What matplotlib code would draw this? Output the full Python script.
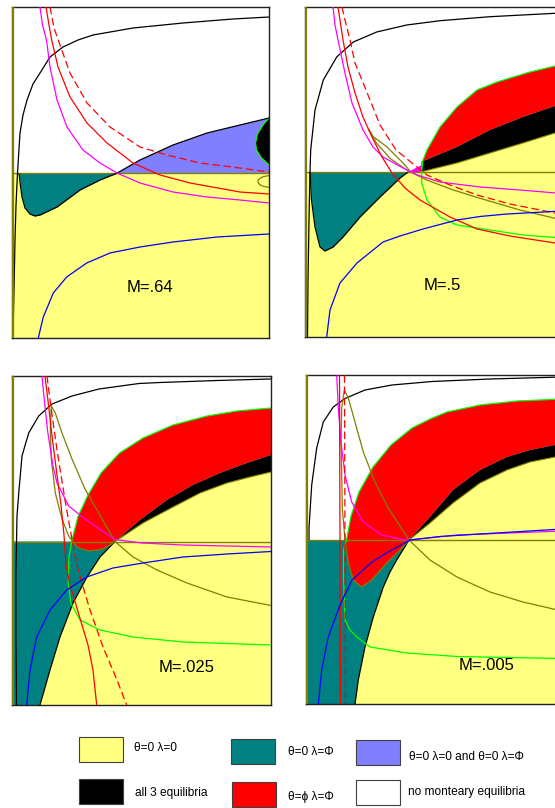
import numpy as np
import matplotlib
matplotlib.use("Agg")
import matplotlib.pyplot as plt
from matplotlib.patches import Rectangle, Ellipse

plt.rcParams["font.family"] = ["Liberation Sans", "DejaVu Sans"]

YELLOW = "#FFFF80"
TEAL = "#008080"
LILAC = "#8080FF"
RED = "#FF0000"
OLIVE = "#808000"
GREEN = "#00FF00"
MAGENTA = "#FF00FF"
BLUE = "#0000FF"

# ---- M=.64 -------------------------------------------------------------
m64_hline = 173.3
m64_upper = [(13, 335), (14, 290), (15, 240), (16, 205), (17.5, 173), (20, 133), (23, 115), (27, 100),
             (33, 84), (40, 73), (50, 57), (63, 47), (78, 40), (93, 35), (133, 28), (183, 23), (233, 19), (269, 17)]
m64_lower = [(19, 173.3), (20.5, 186), (22, 197), (25, 208), (30, 214), (35, 216), (40, 215), (57, 207),
             (80, 190), (100, 180), (116.7, 173.3), (140, 160), (173, 145), (207, 133), (240, 125), (269, 118)]
m64_blob = [(269, 118), (263, 125), (257.5, 134), (255.5, 143), (256.5, 150), (261.5, 158), (269, 165)]
m64_magenta = [(40, 7), (42.5, 25), (46.5, 40), (50, 67), (57, 100), (67, 127), (83, 150), (100, 163),
               (117, 173), (140, 183), (173, 192), (207, 197), (240, 200), (269, 203)]
m64_red = [(46, 7), (49, 25), (51.7, 40), (58, 67), (70, 97), (87, 123), (107, 143), (133, 163),
           (160, 175), (190, 183), (240, 192), (269, 194)]
m64_red_dash = [(50, 7), (54, 28), (60, 45), (70, 73), (87, 103), (110, 127), (140, 147), (167, 155),
                (200, 163), (240, 168), (269, 172)]
m64_blue = [(38.3, 338), (43.3, 317), (53.3, 293), (66.7, 277), (86.7, 263), (110, 253), (140, 247),
            (173, 242), (217, 237), (269, 234)]
m64_loop = (272, 181.5, 28, 12)  # centre x, centre y, width, height

# ---- M=.5 --------------------------------------------------------------
m5_hline = 172
m5_upper = [(307.5, 337), (308, 280), (309, 220), (310, 172), (310.7, 150), (315, 110), (323.3, 80),
            (336.7, 57), (353.3, 42), (376.7, 32), (406.7, 25), (440, 20.7), (490, 16.7), (555, 13.3), (562, 13)]
m5_lower = [(310, 172), (311.5, 200), (315, 227), (320, 247), (325, 251), (333, 247), (343, 237),
            (360, 217), (380, 197), (400, 178), (408, 172)]
m5_green_top = [(421.7, 172), (423, 160), (427, 150), (440, 127), (457, 107), (477, 90), (497, 82),
                (510, 78), (530, 72), (555, 66), (562, 65)]
m5_green_low = [(421.7, 172), (421.7, 183), (427, 200), (440, 217), (457, 225), (480, 228.5), (490, 230),
                (523, 235), (562, 238)]
m5_red_black = [(421.7, 161.7), (457, 147), (490, 130), (523, 117), (555, 106), (562, 104)]
m5_black_yellow = [(421.7, 171.7), (457, 163), (490, 153), (523, 143), (555, 133), (562, 131.5)]
m5_pink = [(408, 172), (421.7, 165), (421.7, 172)]
m5_magenta = [(333, 7), (335, 25), (338, 40), (345, 73), (352, 103), (363, 130), (373, 147), (383, 157),
              (403, 168), (417, 175), (440, 182), (480, 187), (520, 190), (562, 193.5)]
m5_red = [(338, 7), (340, 20), (343, 40), (348, 67), (355, 93), (363, 117), (372, 137), (382, 157),
          (392, 173), (405, 188), (420, 200), (450, 217), (477, 229), (510, 236), (555, 243), (562, 244)]
m5_red_dash = [(342, 7), (345, 20), (350, 40), (355, 63), (362, 80), (370, 100), (380, 125), (396, 150),
               (412, 163), (427, 175), (450, 185), (477, 195), (510, 204), (555, 213), (562, 214)]
m5_olive_a = [(368.3, 129), (376.7, 143.3), (390, 158.3), (406.7, 170), (426.7, 180), (453.3, 190),
              (480, 198.3), (520, 210), (555, 218.3), (562, 219.5)]
m5_olive_b = [(368.3, 129), (373.3, 136.7), (386.7, 146.7), (403.3, 163.3), (410, 171)]
m5_blue = [(326.7, 337), (330, 310), (340, 283), (357, 263), (383, 242), (400, 236), (423, 229),
           (457, 220), (480, 216.5), (507, 214), (562, 211)]

# ---- M=.025 ------------------------------------------------------------
m025_hline = 541.5
m025_upper = [(16.5, 705), (16, 640), (16, 570), (17, 516), (19, 490), (22, 456), (28.7, 433), (38.7, 416),
              (52, 404), (72, 396), (99, 389), (139, 383.5), (160, 382.5), (217, 380.5), (271, 379)]
m025_lower = [(40, 705), (50, 670), (60, 637), (73, 603), (87, 577), (100, 557), (115, 541.5), (143, 523),
              (173, 507), (200, 493), (227, 483), (250, 477), (271, 472)]
m025_red_black = [(115, 541.5), (140, 520), (167, 500), (193, 485), (220, 473), (247, 463), (271, 455)]
m025_green_top = [(72, 540), (78, 516.5), (87.5, 496), (101, 473), (119.5, 453), (143, 438), (173, 425),
                  (207, 416), (237, 411), (271, 408)]
m025_green_low = [(72, 540), (69, 557), (68.3, 583), (70.7, 603), (80, 620), (100, 630), (133, 637),
                  (183, 642), (271, 645)]
m025_dip = [(72, 541.5), (78, 547.5), (88.7, 551), (102, 549.3), (110, 545), (115, 541.5)]
m025_olive = [(72, 541), (68.7, 536), (62, 519), (55.3, 493), (51.3, 459), (50.3, 426), (51.3, 406),
              (55.3, 413), (62, 433), (72, 459), (85, 489), (98.7, 513), (115, 541.5), (133, 557),
              (157, 570), (187, 583), (227, 597), (271, 605.5)]
m025_magenta = [(42, 376), (43.5, 392), (45.3, 409), (47.5, 430), (50.3, 449), (53, 466), (57, 483),
                (68.7, 506), (85, 519), (102, 531), (115, 539.5), (142, 543), (183, 545), (271, 547)]
m025_red = [(45, 376), (48.5, 405), (52.5, 440), (57, 475), (61, 505), (64, 535), (66, 565), (70, 585),
            (76, 605), (82, 625), (88, 645), (93, 670), (96.7, 705)]
m025_red_dash = [(47, 376), (50, 400), (53.5, 425), (57, 450), (61, 475), (65, 500), (68.5, 520), (73, 545),
                 (78, 570), (84, 590), (90, 610), (103, 647), (117, 680), (126.7, 705)]
m025_blue = [(26.7, 705), (30, 670), (36.7, 637), (50, 610), (66.7, 590), (86.7, 577), (113, 568),
             (143, 563), (183, 557), (227, 554), (271, 551.5)]

# ---- M=.005 ------------------------------------------------------------
m005_hline = 540
m005_upper = [(309, 540), (309, 528), (311.7, 485), (316.7, 448), (323.3, 422), (333.3, 407), (345, 398.5),
              (365, 390), (392, 385), (432, 381.5), (490, 379), (562, 377)]
m005_lower = [(355, 704.3), (358.3, 680), (365, 647), (373.3, 617), (383.3, 587), (390, 572), (396.7, 560),
              (409, 540), (430, 523), (453, 503), (480, 483), (507, 470), (530, 462), (555, 457), (562, 456)]
m005_red_black = [(409, 540), (430, 517), (453, 490), (480, 470), (507, 457), (530, 450), (555, 445),
                  (562, 443.5)]
m005_green_top = [(346.5, 540), (351, 516), (359, 492), (373, 467), (391, 445), (412, 428), (430, 419),
                  (447, 412), (480, 405), (517, 401), (555, 399.3), (562, 399)]
m005_green_low = [(346.5, 540), (343.5, 550), (343.5, 577), (345, 620), (350, 630), (357, 637), (370, 647),
                  (407, 653), (457, 656.5), (562, 658.5)]
m005_dip = [(345, 540), (348.3, 563), (353.3, 580), (361.7, 587), (371.7, 580), (386.7, 563), (400, 550),
            (409, 540)]
m005_olive = [(345, 540), (342.3, 508), (341.7, 475), (341, 442), (341.7, 408), (344.3, 390), (348.3, 398),
              (355, 422), (363.3, 452), (375, 482), (388.3, 508), (409, 540), (430, 560), (457, 577),
              (490, 592), (523, 602), (562, 611)]
m005_magenta = [(336.7, 375.3), (338.3, 408), (341, 442), (345, 475), (351.7, 502), (363.3, 522),
                (381.7, 535), (405, 540), (409, 540), (423, 538.5), (457, 535), (562, 531)]
m005_red = [(339.5, 375.3), (340, 540), (340.5, 704.3)]
m005_red_dash = [(344.5, 375.3), (345, 540), (345.5, 704.3)]
m005_blue = [(318.3, 704.3), (321.7, 670), (328.3, 637), (340, 605), (352, 580), (372, 562), (388, 552),
             (405, 543), (410, 540), (440, 536.5), (480, 534), (562, 529)]

# ---- legend ------------------------------------------------------------
legend_labels = ["θ=0 λ=0", "θ=0 λ=Φ", "θ=0 λ=0 and θ=0 λ=Φ",
                 "all 3 equilibria", "θ=ϕ λ=Φ", "no monteary equilibria"]
legend_colors = [YELLOW, TEAL, LILAC, "black", RED, "white"]

W, H = 555, 808
fig = plt.figure(figsize=(W / 100, H / 100), dpi=100)
fig.patch.set_facecolor("white")


def xy(pts):
    return [p[0] for p in pts], [p[1] for p in pts]


def panel(x0, y0, x1, y1):
    ax = fig.add_axes([x0 / W, 1 - y1 / H, (x1 - x0) / W, (y1 - y0) / H])
    ax.set_xlim(x0, x1)
    ax.set_ylim(y1, y0)
    ax.set_xticks([])
    ax.set_yticks([])
    for s in ax.spines.values():
        s.set_linewidth(1.0)
        s.set_color("#202020")
    ax.axvline(x0 + 1, color=OLIVE, lw=1.6, zorder=8)
    return ax


def fill(ax, pts, color, z=2):
    xs, ys = xy(pts)
    ax.fill(xs, ys, color=color, lw=0, zorder=z)


def line(ax, pts, color, dashed=False, lw=0.9, z=5):
    xs, ys = xy(pts)
    ls = (0, (6, 3)) if dashed else "-"
    ax.plot(xs, ys, color=color, lw=lw, ls=ls, zorder=z, solid_capstyle="butt")


def label(ax, x, y, txt):
    ax.text(x, y, txt, fontsize=12, ha="center", va="center", zorder=9)


# M=.64
ax1 = panel(12, 7, 269, 338)
ax1.axhspan(m64_hline, 338, color=YELLOW, lw=0, zorder=1)
lx, ly = np.array(xy(m64_lower))
ax1.fill_between(lx, ly, m64_hline, where=ly >= m64_hline, interpolate=True, color=TEAL, lw=0, zorder=2)
ax1.fill_between(lx, ly, m64_hline, where=ly <= m64_hline, interpolate=True, color=LILAC, lw=0, zorder=2)
fill(ax1, m64_blob, "black", 3)
line(ax1, m64_blob, GREEN)
cx, cy, ew, eh = m64_loop
ax1.add_patch(Ellipse((cx, cy), ew, eh, fill=False, ec=OLIVE, lw=0.9, zorder=5))
ax1.axhline(m64_hline, color=OLIVE, lw=1.0, zorder=4)
line(ax1, m64_upper, "black")
line(ax1, m64_lower, "black")
line(ax1, m64_magenta, MAGENTA)
line(ax1, m64_red, RED)
line(ax1, m64_red_dash, RED, dashed=True)
line(ax1, m64_blue, BLUE)
label(ax1, 150, 288, "M=.64")

# M=.5
ax2 = panel(305, 7, 562, 337)
ax2.axhspan(m5_hline, 337, color=YELLOW, lw=0, zorder=1)
lx, ly = np.array(xy(m5_lower))
ax2.fill_between(lx, ly, m5_hline, where=ly >= m5_hline, interpolate=True, color=TEAL, lw=0, zorder=2)
fill(ax2, m5_green_top + m5_red_black[::-1], RED)
fill(ax2, m5_red_black + m5_black_yellow[::-1], "black")
fill(ax2, m5_black_yellow + [(562, m5_hline)], YELLOW)
fill(ax2, m5_pink, MAGENTA, 3)
ax2.axhline(m5_hline, color=OLIVE, lw=1.0, zorder=4)
line(ax2, m5_upper, "black")
line(ax2, m5_lower, "black")
line(ax2, m5_black_yellow, OLIVE, lw=0.8)
line(ax2, m5_green_top, GREEN)
line(ax2, m5_green_low, GREEN)
line(ax2, m5_olive_a, OLIVE)
line(ax2, m5_olive_b, OLIVE)
line(ax2, m5_magenta, MAGENTA)
line(ax2, m5_red, RED)
line(ax2, m5_red_dash, RED, dashed=True)
line(ax2, m5_blue, BLUE)
label(ax2, 442, 285, "M=.5")


def lower_panel(ax, x0, x1, y1, hl, lower, red_black, green_top, green_low, dip, olive,
                magenta, red, red_dash, blue, upper):
    ax.axhspan(hl, y1, color=YELLOW, lw=0, zorder=1)
    below = [p for p in lower if p[1] >= hl]
    above = [p for p in lower if p[1] <= hl]
    fill(ax, [(x0, hl)] + below[::-1] + [(x0, y1)], TEAL)
    fill(ax, above + [(x1, hl)], YELLOW)
    fill(ax, green_top + red_black[::-1] + dip[::-1], RED)
    fill(ax, red_black + above[::-1], "black")
    ax.axhline(hl, color=OLIVE, lw=1.0, zorder=4)
    line(ax, upper, "black")
    line(ax, below, "black")
    line(ax, above, OLIVE, lw=0.8)
    line(ax, green_top, GREEN)
    line(ax, green_low, GREEN)
    line(ax, dip, OLIVE)
    line(ax, olive, OLIVE)
    line(ax, magenta, MAGENTA)
    line(ax, red, RED)
    line(ax, red_dash, RED, dashed=True)
    line(ax, blue, BLUE)


# M=.025
ax3 = panel(12, 376, 271, 705)
lower_panel(ax3, 12, 271, 705, m025_hline, m025_lower, m025_red_black, m025_green_top, m025_green_low,
            m025_dip, m025_olive, m025_magenta, m025_red, m025_red_dash, m025_blue, m025_upper)
label(ax3, 187, 668, "M=.025")

# M=.005
ax4 = panel(305.7, 375.3, 562, 704.3)
lower_panel(ax4, 305.7, 562, 704.3, m005_hline, m005_lower, m005_red_black, m005_green_top, m005_green_low,
            m005_dip, m005_olive, m005_magenta, m005_red, m005_red_dash, m005_blue, m005_upper)
label(ax4, 487, 665, "M=.005")

# legend: two rows of three swatches
leg = fig.add_axes([0, 0, 1, 90 / H])
leg.set_xlim(0, W)
leg.set_ylim(H, H - 90)
leg.axis("off")
box_x = [79.3, 231, 356, 79.3, 231.7, 356]
box_y = [737.3, 739.3, 740, 779, 781.7, 780]
text_x = [134, 288, 409.3, 135, 288, 408.3]
text_y = [748, 751.7, 756.7, 793.3, 797.3, 791.7]
for i, (lab, col) in enumerate(zip(legend_labels, legend_colors)):
    leg.add_patch(Rectangle((box_x[i], box_y[i]), 44, 25, fc=col, ec="#404040", lw=0.8))
    leg.text(text_x[i], text_y[i], lab, fontsize=8.6, ha="left", va="center")

fig.savefig("out.png", dpi=100)
